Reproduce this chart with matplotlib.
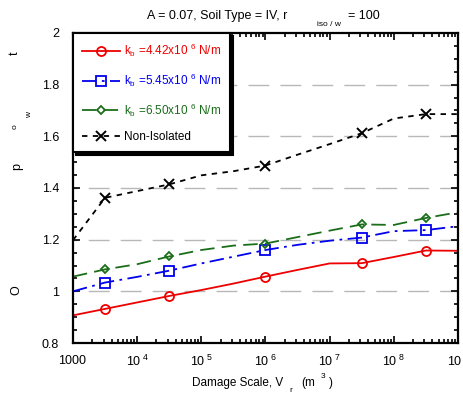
import numpy as np
import matplotlib
matplotlib.use("Agg")
import matplotlib.pyplot as plt
from matplotlib.ticker import FixedLocator, FixedFormatter, LogLocator, MultipleLocator, NullFormatter

plt.rcParams['font.family'] = ['Liberation Sans', 'DejaVu Sans']
plt.rcParams['mathtext.fontset'] = 'custom'
plt.rcParams['mathtext.rm'] = 'Liberation Sans'
plt.rcParams['mathtext.it'] = 'Liberation Sans'

# ---- data ----
damage_scale = [1e3, 3.16e3, 1e4, 3.16e4, 1e5, 3.16e5, 1e6, 3.16e6, 1e7, 3.16e7, 1e8, 3.16e8, 1e9]
kb_442 = [0.907, 0.932, 0.957, 0.982, 1.005, 1.030, 1.057, 1.083, 1.108, 1.109, 1.133, 1.158, 1.157]
kb_545 = [1.000, 1.034, 1.056, 1.080, 1.108, 1.134, 1.160, 1.180, 1.196, 1.208, 1.233, 1.237, 1.252]
kb_650 = [1.057, 1.085, 1.105, 1.135, 1.160, 1.177, 1.185, 1.210, 1.235, 1.259, 1.257, 1.284, 1.306]
non_isolated = [1.198, 1.362, 1.388, 1.414, 1.449, 1.465, 1.487, 1.529, 1.570, 1.612, 1.669, 1.686, 1.686]
marker_idx = [1, 3, 6, 9, 11]

labels = [r"k$_\mathregular{b}$ =4.42x10 $^\mathregular{6}$ N/m",
          r"k$_\mathregular{b}$ =5.45x10 $^\mathregular{6}$ N/m",
          r"k$_\mathregular{b}$ =6.50x10 $^\mathregular{6}$ N/m",
          "Non-Isolated"]
xtick_vals = [1e3, 1e4, 1e5, 1e6, 1e7, 1e8, 1e9]
xtick_labels = [r"$\mathregular{1000}$", r"$\mathregular{10^{\ 4}}$", r"$\mathregular{10^{\ 5}}$",
                r"$\mathregular{10^{\ 6}}$", r"$\mathregular{10^{\ 7}}$", r"$\mathregular{10^{\ 8}}$",
                r"$\mathregular{10^{\ 9}}$"]
ytick_vals = [0.8, 1.0, 1.2, 1.4, 1.6, 1.8, 2.0]
ytick_labels = ["0.8", "1", "1.2", "1.4", "1.6", "1.8", "2"]

W, H = 463, 398
fig = plt.figure(figsize=(W / 100, H / 100), dpi=100)
ax = fig.add_axes([73 / W, 1 - 343 / H, (458 - 73) / W, (343 - 33) / H])

# grid lines (gray dashed) at inner major y ticks
for yv in ytick_vals[1:-1]:
    ax.axhline(yv, color='#b8b8b8', lw=1.0, ls=(12, (15, 8)), zorder=0.5)

ax.plot(damage_scale, kb_442, color='#ee0000', lw=1.3, ls='-', marker='o', ms=6.5,
        mfc='none', mew=1.3, markevery=marker_idx, label=labels[0])
ax.plot(damage_scale, kb_545, color='#0000ee', lw=1.3, ls=(0, (8, 3, 1.5, 3)), marker='s', ms=6.5,
        mfc='none', mew=1.3, markevery=marker_idx, label=labels[1])
ax.plot(damage_scale, kb_650, color='#1a6e1a', lw=1.3, ls=(0, (8, 4)), marker='D', ms=4.5,
        mfc='none', mew=1.3, markevery=marker_idx, label=labels[2])
ax.plot(damage_scale, non_isolated, color='black', lw=1.3, ls=(0, (3, 3)), marker='x', ms=7,
        mew=1.4, markevery=marker_idx, label=labels[3])

ax.set_xscale('log')
ax.set_xlim(1e3, 1e9)
ax.set_ylim(0.8, 2.0)
ax.xaxis.set_major_locator(FixedLocator(xtick_vals))
ax.xaxis.set_major_formatter(FixedFormatter(xtick_labels))
ax.xaxis.set_minor_locator(LogLocator(base=10, subs=np.arange(2, 10), numticks=20))
ax.xaxis.set_minor_formatter(NullFormatter())
ax.yaxis.set_major_locator(FixedLocator(ytick_vals))
ax.yaxis.set_major_formatter(FixedFormatter(ytick_labels))
ax.yaxis.set_minor_locator(MultipleLocator(0.05))

ax.tick_params(which='both', direction='in', top=True, right=True, width=1.2, labelsize=9)
ax.tick_params(which='major', length=5)
ax.tick_params(which='minor', length=3)
ax.tick_params(axis='y', which='major', pad=10)
ax.tick_params(axis='x', which='major', pad=8)
for s in ax.spines.values():
    s.set_linewidth(1.6)

leg = ax.legend(loc='upper left', bbox_to_anchor=(0, 1), borderaxespad=0, fontsize=8.5,
                handlelength=3.2, labelspacing=1.05, fancybox=False, edgecolor='black',
                framealpha=1, shadow={'color': 'black', 'alpha': 1}, borderpad=0.75,
                handletextpad=0.4)
leg.get_frame().set_linewidth(1.5)
for txt, col in zip(leg.get_texts(), ['#ee0000', '#0000ee', '#1a6e1a', 'black']):
    txt.set_color(col)

# title pieces
fig.text(147 / W, 1 - 16 / H, "A = 0.07, Soil Type = IV, r", fontsize=9, ha='left', va='center')
fig.text(317 / W, 1 - 24 / H, "iso / w", fontsize=6, ha='left', va='center')
fig.text(348 / W, 1 - 16 / H, "= 100", fontsize=9, ha='left', va='center')

# x label pieces
fig.text(192 / W, 1 - 383 / H, "Damage Scale, V", fontsize=8.5, ha='left', va='center')
fig.text(289 / W, 1 - 391 / H, "r", fontsize=6, ha='left', va='center')
fig.text(301 / W, 1 - 383 / H, "(m", fontsize=8.5, ha='left', va='center')
fig.text(321 / W, 1 - 377 / H, "3", fontsize=6, ha='left', va='center')
fig.text(329 / W, 1 - 383 / H, ")", fontsize=8.5, ha='left', va='center')

# y label pieces (rotated)
fig.text(16 / W, 1 - 290 / H, "O", fontsize=9, rotation=90, ha='center', va='center')
fig.text(17 / W, 1 - 167 / H, "p", fontsize=9, rotation=90, ha='center', va='center')
fig.text(15 / W, 1 - 127 / H, "o", fontsize=6, rotation=90, ha='center', va='center')
fig.text(30 / W, 1 - 115 / H, "w", fontsize=6, rotation=90, ha='center', va='center')
fig.text(15 / W, 1 - 53 / H, "t", fontsize=9, rotation=90, ha='center', va='center')

fig.savefig("out.png", dpi=100)
